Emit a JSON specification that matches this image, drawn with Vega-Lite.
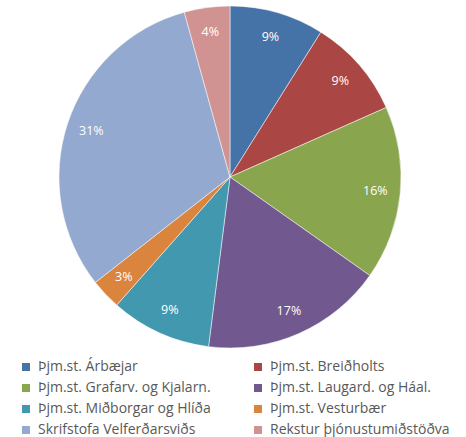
{
  "$schema": "https://vega.github.io/schema/vega-lite/v6.json",
  "width": 460,
  "height": 354,
  "autosize": "none",
  "padding": {"left": 0, "top": 0, "right": 6, "bottom": 83},
  "background": "white",
  "data": {
    "values": [
      {"i": 1, "cat": "Þjm.st. Árbæjar", "v": 8.9, "label": "9%"},
      {"i": 2, "cat": "Þjm.st. Breiðholts", "v": 9.4, "label": "9%"},
      {"i": 3, "cat": "Þjm.st. Grafarv. og Kjalarn.", "v": 16.4, "label": "16%"},
      {"i": 4, "cat": "Þjm.st. Laugard. og Háal.", "v": 17.2, "label": "17%"},
      {"i": 5, "cat": "Þjm.st. Miðborgar og Hlíða", "v": 9.5, "label": "9%"},
      {"i": 6, "cat": "Þjm.st. Vesturbær", "v": 2.9, "label": "3%"},
      {"i": 7, "cat": "Skrifstofa Velferðarsviðs", "v": 31.2, "label": "31%"},
      {"i": 8, "cat": "Rekstur þjónustumiðstöðva", "v": 4.3, "label": "4%"}
    ]
  },
  "encoding": {
    "theta": {"field": "v", "type": "quantitative", "stack": true},
    "order": {"field": "i", "type": "quantitative"}
  },
  "layer": [
    {
      "mark": {"type": "arc", "outerRadius": 171, "stroke": "white", "strokeWidth": 0.5},
      "encoding": {
        "color": {
          "field": "cat",
          "type": "nominal",
          "sort": null,
          "scale": {
            "domain": ["Þjm.st. Árbæjar", "Þjm.st. Breiðholts", "Þjm.st. Grafarv. og Kjalarn.", "Þjm.st. Laugard. og Háal.", "Þjm.st. Miðborgar og Hlíða", "Þjm.st. Vesturbær", "Skrifstofa Velferðarsviðs", "Rekstur þjónustumiðstöðva"],
            "range": ["#4572A7", "#AA4643", "#89A54E", "#71588F", "#4198AF", "#DB843D", "#93A9CF", "#D19392"]
          },
          "legend": {
            "title": null,
            "orient": "none",
            "legendX": 19,
            "legendY": 360,
            "direction": "horizontal",
            "columns": 2,
            "columnPadding": 40,
            "rowPadding": 7,
            "symbolType": "square",
            "symbolSize": 64,
            "symbolStrokeWidth": 0,
            "labelFont": "Open Sans",
            "labelFontSize": 14,
            "labelColor": "#595959",
            "labelLimit": 300,
            "labelOffset": 5
          }
        }
      }
    },
    {
      "mark": {"type": "text", "radius": 146, "font": "Open Sans", "fontSize": 12.5, "fill": "white"},
      "encoding": {"text": {"field": "label", "type": "nominal"}}
    }
  ]
}
